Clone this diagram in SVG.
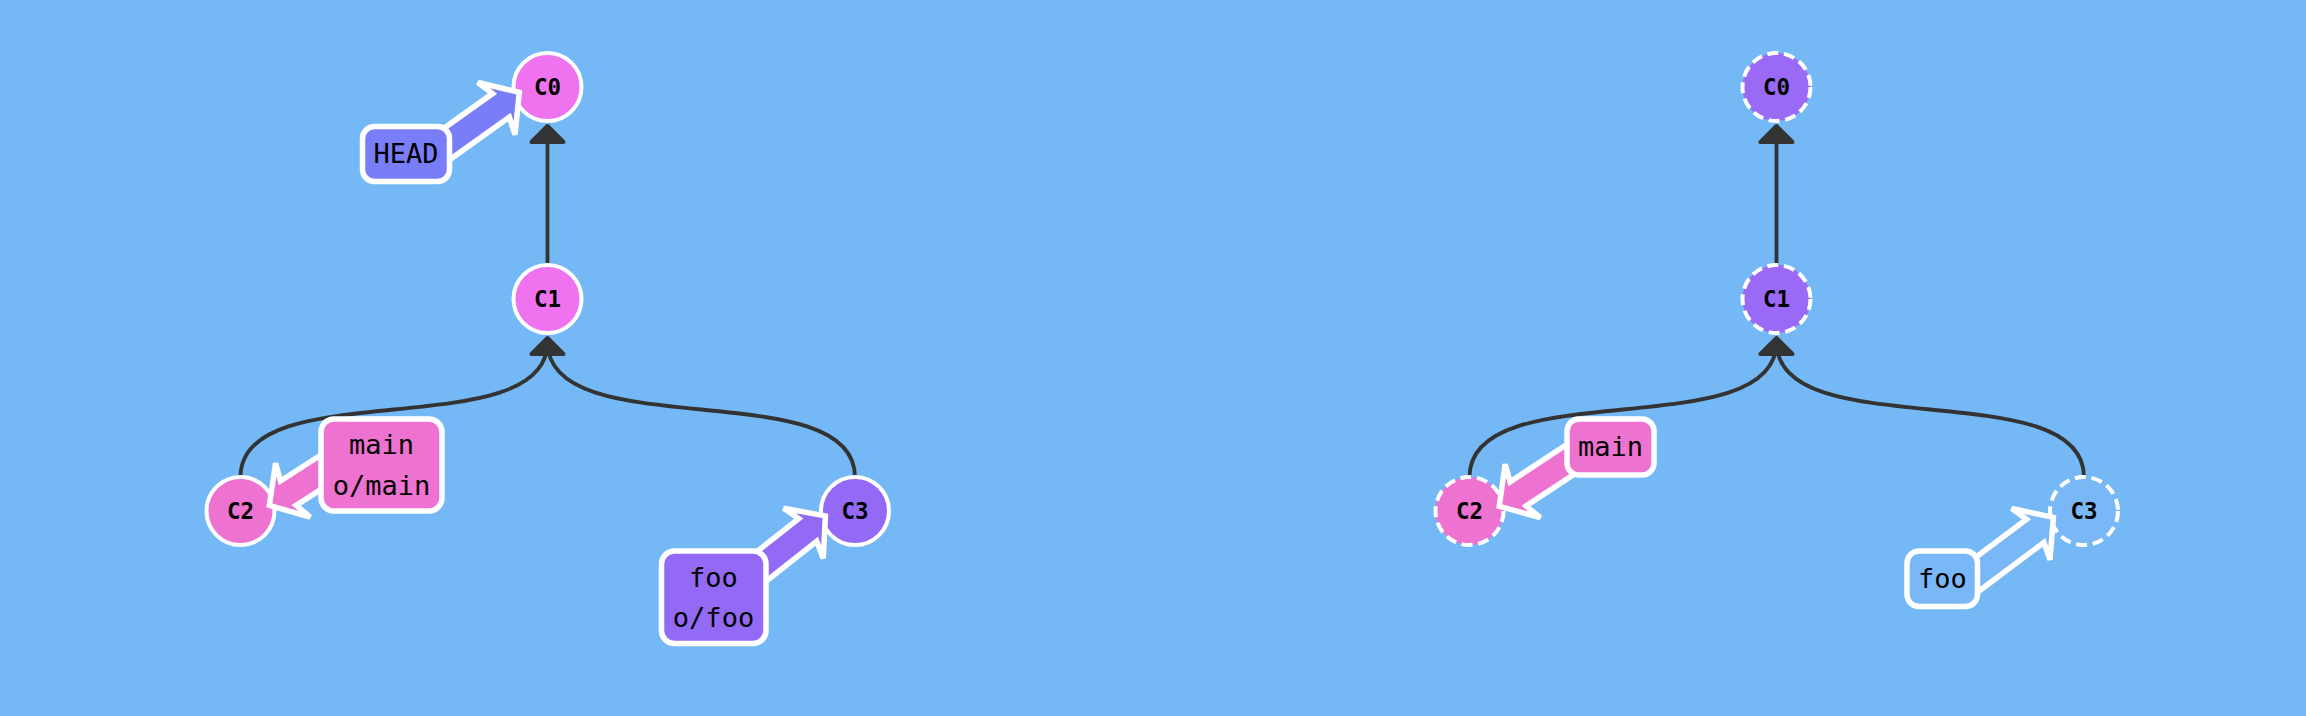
<svg xmlns="http://www.w3.org/2000/svg" width="2306" height="716" viewBox="0 0 2306 716">
<style>
.edge{fill:none;stroke:#333333;stroke-width:3.8}
.ah{fill:#333333;stroke:#333333;stroke-width:4;stroke-linejoin:round}
.node{stroke:#ffffff;stroke-width:4}
.dash{stroke-dasharray:11 5.75}
.nl{font-family:"DejaVu Sans Mono","Liberation Mono",monospace;font-weight:bold;font-size:22.5px;text-anchor:middle;fill:#000}
.bl{font-family:"DejaVu Sans Mono","Liberation Mono",monospace;font-size:27px;text-anchor:middle;fill:#000}
.box{stroke:#ffffff;stroke-width:5.5}
.arr{stroke:#ffffff;stroke-width:5.5;stroke-linejoin:miter;stroke-miterlimit:2}
</style>
<defs>
<polygon id="fat" points="3.9,0 32,-32 26.5,-14.5 118,-14.5 118,14.5 26.5,14.5 32,32"/>
</defs>
<rect width="2306" height="716" fill="#74B9F5"/>
<g id="connectors">
<path class="edge" d="M547.5,265 L547.5,130"/>
<polygon class="ah" points="547.5,126 531.5,142 563.5,142"/>
<path class="edge" d="M240.5,477 C240.5,372 547.5,447 547.5,342"/>
<path class="edge" d="M855,477 C855,372 547.5,447 547.5,342"/>
<polygon class="ah" points="547.5,338 531.5,354 563.5,354"/>
<path class="edge" d="M1776.5,265 L1776.5,130"/>
<polygon class="ah" points="1776.5,126 1760.5,142 1792.5,142"/>
<path class="edge" d="M1469.5,477 C1469.5,372 1776.5,447 1776.5,342"/>
<path class="edge" d="M2084,477 C2084,372 1776.5,447 1776.5,342"/>
<polygon class="ah" points="1776.5,338 1760.5,354 1792.5,354"/>
</g>
<g id="C0">
<circle class="node" cx="547.5" cy="87" r="34" fill="#EF73EE"/>
<text class="nl" x="547.5" y="95">C0</text>
</g>
<g id="C1">
<circle class="node" cx="547.5" cy="299" r="34" fill="#EF73EE"/>
<text class="nl" x="547.5" y="307">C1</text>
</g>
<g id="C2">
<circle class="node" cx="240.5" cy="511" r="34" fill="#EE72CF"/>
<text class="nl" x="240.5" y="519">C2</text>
</g>
<g id="C3">
<circle class="node" cx="855" cy="511" r="34" fill="#936AF5"/>
<text class="nl" x="855" y="519">C3</text>
</g>
<g id="HEAD">
<use href="#fat" class="arr" fill="#797EF8" transform="translate(522.5,90) rotate(144.5)"/>
<rect class="box" x="362.5" y="126.5" width="87" height="55" rx="12" fill="#797EF8"/>
<text class="bl" x="406" y="163">HEAD</text>
</g>
<g id="main">
<use href="#fat" class="arr" fill="#EE72CF" transform="translate(266,507.5) rotate(-32.7)"/>
<rect class="box" x="321" y="419" width="121" height="92" rx="13" fill="#EE72CF"/>
<text class="bl" x="381.5" y="454">main</text>
<text class="bl" x="381.5" y="495">o/main</text>
</g>
<g id="foo">
<use href="#fat" class="arr" fill="#936AF5" transform="translate(828.5,513.5) rotate(141.7)"/>
<rect class="box" x="661.5" y="551" width="104.5" height="92.5" rx="13" fill="#936AF5"/>
<text class="bl" x="713.5" y="587">foo</text>
<text class="bl" x="713.5" y="627">o/foo</text>
</g>
<g id="goal-C0">
<circle class="node dash" cx="1776.5" cy="87" r="34" fill="#9A6AF6"/>
<text class="nl" x="1776.5" y="95">C0</text>
</g>
<g id="goal-C1">
<circle class="node dash" cx="1776.5" cy="299" r="34" fill="#9A6AF6"/>
<text class="nl" x="1776.5" y="307">C1</text>
</g>
<g id="goal-C2">
<circle class="node dash" cx="1469.5" cy="511" r="34" fill="#EE72CF"/>
<text class="nl" x="1469.5" y="519">C2</text>
</g>
<g id="goal-C3">
<circle class="node dash" cx="2084" cy="511" r="34" fill="#7AB7F6"/>
<text class="nl" x="2084" y="519">C3</text>
</g>
<g id="goal-main">
<use href="#fat" class="arr" fill="#EE72CF" transform="translate(1496,508.5) rotate(-33.4)"/>
<rect class="box" x="1567" y="419" width="87" height="56" rx="12" fill="#EE72CF"/>
<text class="bl" x="1610.5" y="455.5">main</text>
</g>
<g id="goal-foo">
<use href="#fat" class="arr" fill="#7AB7F6" transform="translate(2056.5,515) rotate(143.2)"/>
<rect class="box" x="1907" y="551" width="70.5" height="55.5" rx="12" fill="#7AB7F6"/>
<text class="bl" x="1942.3" y="587.5">foo</text>
</g>
</svg>
